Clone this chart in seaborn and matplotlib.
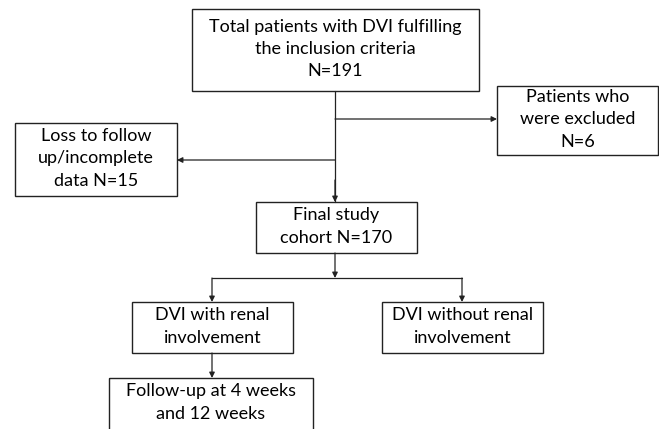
import matplotlib
matplotlib.use("Agg")
import matplotlib.pyplot as plt
import seaborn as sns
from matplotlib.patches import Rectangle

# Texto de cada caixa do fluxograma
labels = [
    "Total patients with DVI fulfilling\nthe inclusion criteria\nN=191",
    "Patients who\nwere excluded\nN=6",
    "Loss to follow\nup/incomplete\ndata N=15",
    "Final study\ncohort N=170",
    "DVI with renal\ninvolvement",
    "DVI without renal\ninvolvement",
    "Follow-up at 4 weeks\nand 12 weeks",
]

# Caixas em pixels: (x0, y0, x1, y1)
boxes = [
    (192, 9, 479, 91),
    (497, 86, 658, 155),
    (15, 123, 177, 196),
    (256, 202, 417, 253),
    (132, 302, 293, 353),
    (382, 302, 543, 353),
    (109, 378, 313, 432),
]

# Linhas simples (sem seta)
lines = [
    ((335, 91), (335, 202)),
    ((212, 278), (462, 278)),
]

# Setas: (origem, destino)
arrows = [
    ((335, 119), (497, 119)),
    ((335, 160), (177, 160)),
    ((335, 180), (335, 202)),
    ((335, 253), (335, 278)),
    ((212, 278), (212, 302)),
    ((462, 278), (462, 302)),
    ((212, 353), (212, 378)),
]

sns.set_style("white")
plt.rcParams["font.family"] = ["Lato", "DejaVu Sans"]

fig, ax = plt.subplots(figsize=(6.59, 4.29), dpi=100)
fig.subplots_adjust(left=0, right=1, bottom=0, top=1)
ax.set_xlim(0, 659)
ax.set_ylim(429, 0)
ax.axis("off")

for (x0, y0, x1, y1), txt in zip(boxes, labels):
    ax.add_patch(
        Rectangle((x0, y0), x1 - x0, y1 - y0, fill=False, edgecolor="#222222", linewidth=1.0)
    )
    ax.text(
        (x0 + x1) / 2,
        (y0 + min(y1, 429)) / 2 - 1,
        txt,
        ha="center",
        va="center",
        fontsize=13,
        linespacing=1.47,
        color="black",
    )

for (a, b) in lines:
    ax.plot([a[0], b[0]], [a[1], b[1]], color="#222222", linewidth=0.9)

for (a, b) in arrows:
    ax.annotate(
        "",
        xy=b,
        xytext=a,
        arrowprops=dict(arrowstyle="-|>", color="#222222", lw=0.9, mutation_scale=8, shrinkA=0, shrinkB=0),
    )

plt.savefig("out.png", dpi=100)
